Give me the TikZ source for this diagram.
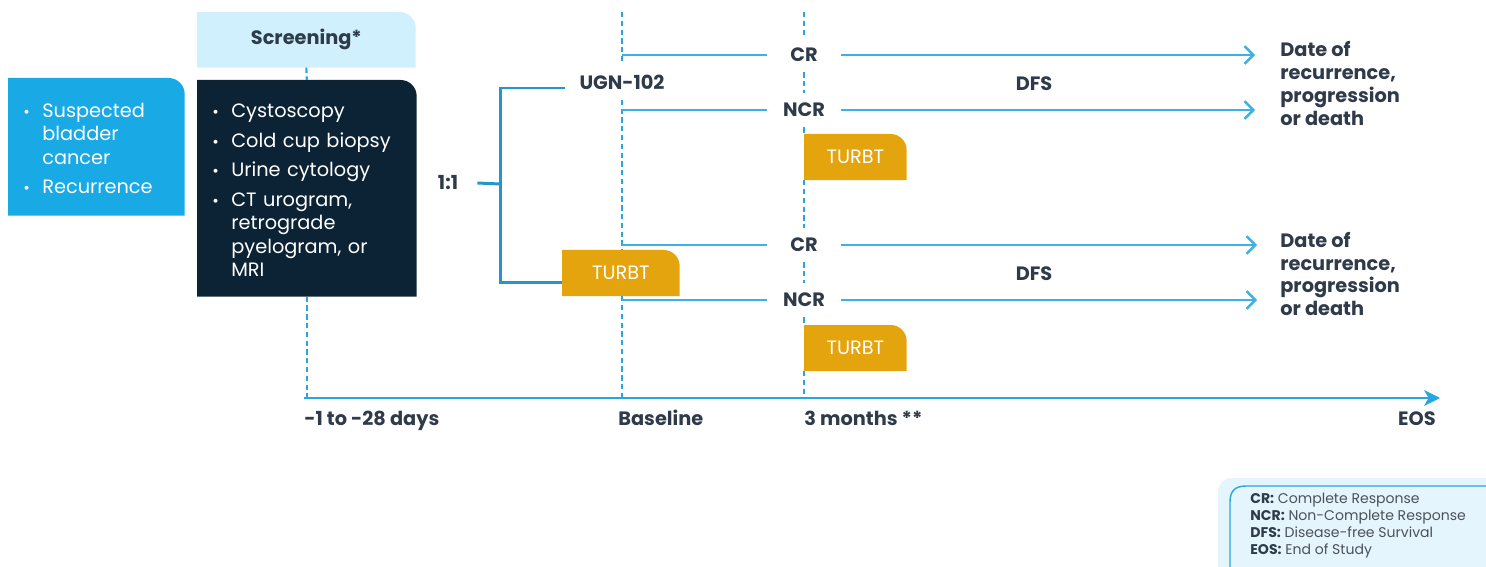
\documentclass[tikz,border=0pt]{standalone}
\usepackage{fontspec}
\setmainfont{Poppins}
\usepackage{tikz}
\usetikzlibrary{arrows,arrows.meta,positioning,calc,backgrounds}
\definecolor{bleuvif}{HTML}{19A9E5}
\definecolor{bleuclair}{HTML}{CFF0FC}
\definecolor{bleunuit}{HTML}{0C2336}
\definecolor{bleutrait}{HTML}{2AA6DF}
\definecolor{bleufleche}{HTML}{3DB1E6}
\definecolor{ardoise}{HTML}{2F3B4A}
\definecolor{ocre}{HTML}{E4A40D}
\definecolor{bleulegende}{HTML}{E4F5FD}
\definecolor{gristexte}{HTML}{4B5259}
\newcommand{\puce}{{\small\textbullet}}
\newcommand{\fondcoin}[2]{\fill[#2] (#1.south west) -- (#1.north west) -- ($(#1.north east)+(-\Coin,0)$) .. controls ($(#1.north east)+(-0.45*\Coin,0)$) and ($(#1.north east)+(0,0.45*\Coin)$) .. ($(#1.north east)+(0,\Coin)$) -- (#1.south east) -- cycle;}

\begin{document}
\begin{tikzpicture}[x=0.02cm,y=-0.02cm]
\tikzstyle{fleche}=[->,>={Straight Barb[length=5pt,width=10pt]},line width=1.4pt,color=bleufleche]
\tikzstyle{trait}=[line width=1.4pt,color=bleufleche]
\tikzstyle{axe}=[->,>={Stealth[length=9pt,width=9pt,inset=2.5pt]},line width=1.7pt,color=bleutrait]
\tikzstyle{pointille}=[line width=1.2pt,color=bleutrait,dash pattern=on 3pt off 2pt]
\tikzstyle{accolade}=[line width=1.7pt,color=bleutrait!90!black]
\tikzstyle{etiquette}=[font=\fontsize{11}{13}\selectfont\bfseries,text=ardoise]
\tikzstyle{reponse}=[etiquette,minimum width=1.46cm,minimum height=0.68cm,inner sep=0pt]
\tikzstyle{turbt}=[anchor=north west,minimum height=0.91cm,text=white,font=\fontsize{11}{13}\selectfont,inner sep=0pt]
\tikzstyle{boite}=[anchor=north west,align=left,text=white,font=\fontsize{11}{13.3}\selectfont,inner xsep=0.3cm,inner ysep=0pt]
\tikzstyle{issue}=[etiquette,anchor=west,align=left,inner sep=0pt]
\tikzstyle{temps}=[etiquette,anchor=base west,inner sep=0pt]
\def\Coin{16}
\def\Base{622}
\def\Trois{804}
\def\Axe{398}
\useasboundingbox (0,0) rectangle (1486,567);
\node[boite,minimum width=3.52cm,minimum height=2.74cm,text width=2.92cm] (suspect) at (8,78) {\raisebox{-2.3pt}[\height][\depth]{\begin{tabular}{@{}p{10.8pt}@{}l@{}}\puce & Suspected\\ & bladder\\ & cancer\\[3.5pt] \puce & Recurrence\end{tabular}}};
\node[etiquette,anchor=north west,minimum width=4.36cm,minimum height=1.1cm,inner sep=0pt] (ecran) at (197,12) {Screening*};
\node[boite,minimum width=4.38cm,minimum height=4.32cm,text width=3.78cm] (bilan) at (197,80) {\raisebox{-2.3pt}[\height][\depth]{\begin{tabular}{@{}p{10.8pt}@{}l@{}}\puce & Cystoscopy\\[3.5pt] \puce & Cold cup biopsy\\[3.5pt] \puce & Urine cytology\\[3.5pt] \puce & CT urogram,\\ & retrograde\\ & pyelogram, or\\ & MRI\end{tabular}}};
\node[etiquette,minimum width=1.16cm,inner sep=0pt] (ratio) at (448,183) {1:1};
\node[etiquette,minimum height=0.7cm,inner sep=2pt] (ugn) at (\Base,82) {UGN-102};
\node[turbt,minimum width=2.34cm] (turbtB) at (562,250) {TURBT};
\node[turbt,minimum width=2.04cm] (turbtA) at (\Trois,134) {TURBT};
\node[turbt,minimum width=2.04cm] (turbtC) at (\Trois,325) {TURBT};
\node[reponse] (cr1) at (\Trois,55) {CR};
\node[reponse] (ncr1) at (\Trois,110) {NCR};
\node[reponse] (cr2) at (\Trois,245) {CR};
\node[reponse] (ncr2) at (\Trois,300) {NCR};
\node[etiquette] (dfs1) at (1034,84) {DFS};
\node[etiquette] (dfs2) at (1034,274) {DFS};
\node[issue] (date1) at (1280,83.5) {Date of\\recurrence,\\progression\\or death};
\node[issue] (date2) at (1280,274) {Date of\\recurrence,\\progression\\or death};
\coordinate (t0) at (304,\Axe);
\coordinate (t1) at (\Base,\Axe);
\coordinate (t2) at (\Trois,\Axe);
\coordinate (fin) at (1440,\Axe);
\coordinate (h1) at (\Base,12);
\coordinate (h2) at (\Trois,12);
\coordinate (bras) at (500,184);
\node[temps] (jours) at (304,425) {-1 to -28 days};
\node[temps] (base) at (618,425) {Baseline};
\node[temps] (mois) at (\Trois,425) {3 months **};
\node[etiquette,anchor=base east,inner sep=0pt] (eos) at (1436,425) {EOS};
\node[anchor=north west,align=left,inner sep=0pt,font=\fontsize{8}{9.6}\selectfont,text=gristexte] (legende) at (1250,493) {\textbf{\color{ardoise}CR:} Complete Response\\\textbf{\color{ardoise}NCR:} Non-Complete Response\\\textbf{\color{ardoise}DFS:} Disease-free Survival\\\textbf{\color{ardoise}EOS:} End of Study};
\begin{scope}[on background layer]
\fill[bleulegende] (1218,567) -- (1218,494) .. controls (1218,484) and (1222,478) .. (1234,478) -- (1486,478) -- (1486,567) -- cycle;
\draw[bleutrait,line width=0.8pt] (1230,567) -- (1230,502) .. controls (1230,492) and (1234,486) .. (1246,486) -- (1486,486);
\fondcoin{suspect}{bleuvif}
\fondcoin{ecran}{bleuclair}
\fondcoin{bilan}{bleunuit}
\fondcoin{turbtA}{ocre}
\fondcoin{turbtB}{ocre}
\fondcoin{turbtC}{ocre}
\end{scope}
\draw[pointille] (ecran.south) -- (bilan.north);
\draw[pointille] (bilan.south) -- (bilan.south |- t0);
\draw[pointille] (h1) -- (ugn.north);
\draw[pointille] (ugn.south) -- (ugn.south |- turbtB.north);
\draw[pointille] (ugn.south |- turbtB.south) -- (t1);
\draw[pointille] (h2) -- (cr1.north);
\draw[pointille] (cr1.south) -- (ncr1.north);
\draw[pointille] (ncr1.south) -- (turbtA.north west);
\draw[pointille] (turbtA.south west) -- (cr2.north);
\draw[pointille] (cr2.south) -- (ncr2.north);
\draw[pointille] (ncr2.south) -- (turbtC.north west);
\draw[pointille] (turbtC.south west) -- (t2);
\draw[axe] (t0) -- (fin);
\draw[accolade] (ratio.east) -- (bras);
\draw[accolade] ($(ugn.west)+(-11,6)$) -| (bras) |- ($(turbtB.west)+(0,9)$);
\draw[trait] (cr1 -| h1) -- (cr1);
\draw[fleche] (cr1) -- ($(cr1 -| date1.west)+(-25,0)$);
\draw[trait] (ncr1 -| h1) -- (ncr1);
\draw[fleche] (ncr1) -- ($(ncr1 -| date1.west)+(-25,0)$);
\draw[trait] (cr2 -| h1) -- (cr2);
\draw[fleche] (cr2) -- ($(cr2 -| date2.west)+(-23,0)$);
\draw[trait] (ncr2 -| h1) -- (ncr2);
\draw[fleche] (ncr2) -- ($(ncr2 -| date2.west)+(-23,0)$);
\end{tikzpicture}
\end{document}
